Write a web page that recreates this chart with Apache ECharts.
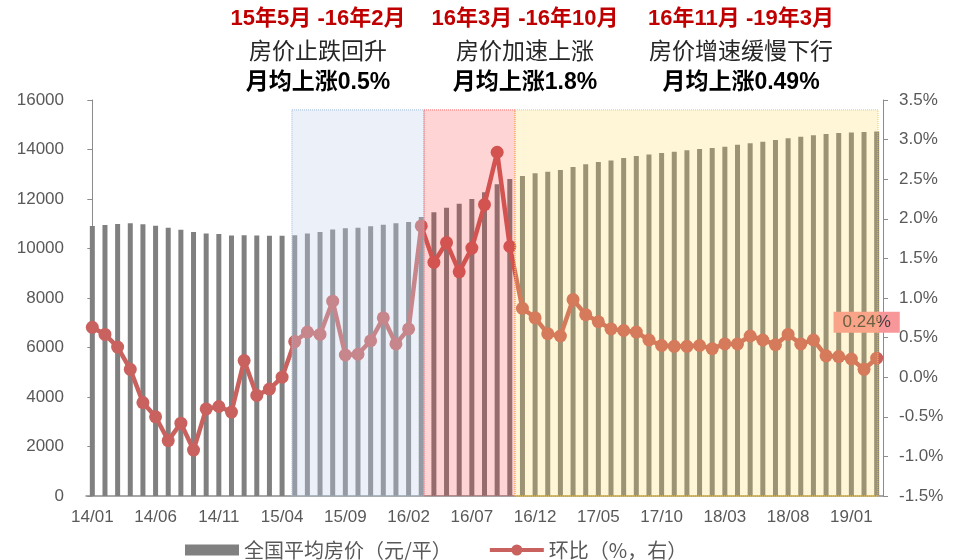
<!DOCTYPE html>
<html>
<head>
<meta charset="utf-8">
<script src="https://cdn.jsdelivr.net/npm/echarts@6/dist/echarts.min.js"></script>
<style>
    html, body { margin: 0; padding: 0; background: #fff; }
    #chart { width: 963px; height: 560px; }
</style>
</head>
<body>
<div id="chart"></div>
<script>
    // 月份
    var months = ['14/01', '14/02', '14/03', '14/04', '14/05', '14/06', '14/07', '14/08', '14/09', '14/10', '14/11', '14/12',
        '15/01', '15/02', '15/03', '15/04', '15/05', '15/06', '15/07', '15/08', '15/09', '15/10', '15/11', '15/12',
        '16/01', '16/02', '16/03', '16/04', '16/05', '16/06', '16/07', '16/08', '16/09', '16/10', '16/11', '16/12',
        '17/01', '17/02', '17/03', '17/04', '17/05', '17/06', '17/07', '17/08', '17/09', '17/10', '17/11', '17/12',
        '18/01', '18/02', '18/03', '18/04', '18/05', '18/06', '18/07', '18/08', '18/09', '18/10', '18/11', '18/12',
        '19/01', '19/02', '19/03'];

    // 全国平均房价（元/平）
    var avgPrice = [10910, 10950, 10990, 11020, 10980, 10920, 10840, 10760, 10670, 10610, 10590, 10530,
        10540, 10530, 10520, 10520, 10540, 10610, 10670, 10770, 10820, 10840, 10900, 10960,
        11020, 11070, 11270, 11460, 11650, 11810, 12000, 12270, 12600, 12810, 12930, 13040,
        13100, 13170, 13290, 13400, 13490, 13560, 13660, 13740, 13800, 13860, 13910, 13970,
        14020, 14060, 14110, 14190, 14250, 14310, 14380, 14450, 14520, 14580, 14630, 14670,
        14690, 14710, 14730];

    // 环比（%）
    var momPct = [0.63, 0.54, 0.38, 0.10, -0.32, -0.50, -0.80, -0.58, -0.92, -0.40, -0.37, -0.44,
        0.21, -0.23, -0.15, 0.00, 0.45, 0.57, 0.54, 0.96, 0.28, 0.29, 0.46, 0.75,
        0.42, 0.61, 1.91, 1.45, 1.70, 1.33, 1.63, 2.18, 2.84, 1.65, 0.87, 0.75,
        0.55, 0.52, 0.98, 0.79, 0.70, 0.61, 0.59, 0.57, 0.47, 0.40, 0.39, 0.39,
        0.40, 0.36, 0.42, 0.42, 0.52, 0.47, 0.41, 0.54, 0.42, 0.47, 0.27, 0.26,
        0.23, 0.10, 0.24];

    // 三个阶段的说明文字
    var stageTitles = ['15年5月 -16年2月', '16年3月 -16年10月', '16年11月 -19年3月'];
    var stageDesc = ['房价止跌回升', '房价加速上涨', '房价增速缓慢下行'];
    var stageAvg = ['月均上涨0.5%', '月均上涨1.8%', '月均上涨0.49%'];

    var numFont = '"Liberation Sans", Arial, "Noto Sans CJK SC", sans-serif';
    var cjkFont = '"Noto Sans CJK SC", "Liberation Sans", sans-serif';
    var stageX = [318, 525, 741];

    var graphics = [];
    for (var i = 0; i < stageTitles.length; i++) {
        graphics.push({
            type: 'text', x: stageX[i], y: 19,
            style: {text: stageTitles[i], fill: '#C00000', font: 'bold 22px ' + numFont,
                textAlign: 'center', textVerticalAlign: 'middle'}
        });
        graphics.push({
            type: 'text', x: stageX[i], y: 50,
            style: {text: stageDesc[i], fill: '#262626', font: '23px ' + cjkFont,
                textAlign: 'center', textVerticalAlign: 'middle'}
        });
        graphics.push({
            type: 'text', x: stageX[i], y: 83,
            style: {text: stageAvg[i], fill: '#000', font: 'bold 23px ' + numFont,
                textAlign: 'center', textVerticalAlign: 'middle'}
        });
    }

    var lineData = momPct.map(function (v, idx) {
        if (idx === momPct.length - 1) {
            return {
                value: v,
                label: {
                    show: true,
                    position: 'top',
                    offset: [-10, -14],
                    formatter: function (p) { return p.value.toFixed(2) + '%'; },
                    backgroundColor: '#F8979A',
                    padding: [2, 9],
                    color: '#404040',
                    fontSize: 17,
                    fontFamily: numFont
                }
            };
        }
        return v;
    });

    var axisLabelStyle = {color: '#595959', fontSize: 17, fontFamily: numFont};
    var lineIcon = 'path://M0,3.5H54V7.5H0Z M21.5,5.5A5.5,5.5 0 1,1 32.5,5.5A5.5,5.5 0 1,1 21.5,5.5Z';

    var option = {
        animation: false,
        backgroundColor: '#fff',
        grid: {left: 86, right: 80, top: 100, bottom: 64},
        legend: {
            left: 180,
            top: 535,
            itemWidth: 54,
            itemHeight: 11,
            itemGap: 38,
            textStyle: {color: '#595959', fontSize: 20, fontFamily: cjkFont},
            data: [
                {name: '全国平均房价（元/平）', icon: 'rect'},
                {name: '环比（%，右）', icon: lineIcon}
            ]
        },
        graphic: graphics,
        xAxis: [
            {
                type: 'category',
                data: months,
                axisLine: {lineStyle: {color: '#8C8C8C', width: 1.5}},
                axisTick: {show: false},
                axisLabel: Object.assign({interval: 4, margin: 13}, axisLabelStyle)
            },
            {
                // 辅助轴，只用来定位阴影区
                type: 'value', min: -0.5, max: 62.5, show: false
            }
        ],
        yAxis: [
            {
                type: 'value', min: 0, max: 16000, interval: 2000,
                splitLine: {show: false},
                axisLine: {show: true, lineStyle: {color: '#8C8C8C'}},
                axisTick: {show: true, length: 5, lineStyle: {color: '#8C8C8C'}},
                axisLabel: Object.assign({
                    margin: 22,
                    formatter: function (v) { return String(v); }
                }, axisLabelStyle)
            },
            {
                type: 'value', min: -1.5, max: 3.5, interval: 0.5, position: 'right',
                splitLine: {show: false},
                axisLine: {show: true, lineStyle: {color: '#8C8C8C'}},
                axisTick: {show: true, length: 5, lineStyle: {color: '#8C8C8C'}},
                axisLabel: Object.assign({
                    margin: 16,
                    formatter: function (v) { return v.toFixed(1) + '%'; }
                }, axisLabelStyle)
            }
        ],
        series: [
            {
                name: '全国平均房价（元/平）',
                type: 'bar',
                barWidth: 5,
                itemStyle: {color: '#808080'},
                data: avgPrice
            },
            {
                name: '环比（%，右）',
                type: 'line',
                yAxisIndex: 1,
                symbol: 'circle',
                symbolSize: 13,
                showAllSymbol: true,
                lineStyle: {width: 4.5, color: '#C9625F'},
                itemStyle: {color: '#C9625F'},
                data: lineData
            },
            {
                name: 'stages',
                type: 'line',
                xAxisIndex: 1,
                yAxisIndex: 0,
                data: [],
                markArea: {
                    silent: true,
                    z: 10,
                    data: [
                        [{xAxis: 15.78, yAxis: 15600, itemStyle: {color: 'rgba(195,210,235,0.32)', borderColor: '#9DB9E0', borderWidth: 1, borderType: 'dotted'}},
                            {xAxis: 26.22, yAxis: 0}],
                        [{xAxis: 26.22, yAxis: 15600, itemStyle: {color: 'rgba(255,14,14,0.18)', borderColor: '#FF6B6B', borderWidth: 1, borderType: 'dotted'}},
                            {xAxis: 33.41, yAxis: 0}],
                        [{xAxis: 33.41, yAxis: 15600, itemStyle: {color: 'rgba(255,209,73,0.22)', borderColor: '#F5C842', borderWidth: 1, borderType: 'dotted'}},
                            {xAxis: 62.1, yAxis: 0}]
                    ]
                }
            }
        ]
    };

    var chart = echarts.init(document.getElementById('chart'));
    chart.setOption(option);
</script>
</body>
</html>
